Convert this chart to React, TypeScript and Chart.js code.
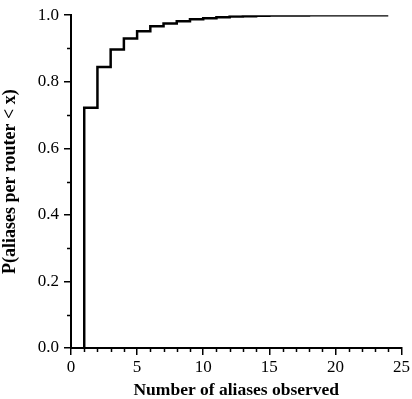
import React, { useEffect, useRef } from "react";
import { Chart, registerables } from "chart.js";

Chart.register(...registerables);

// Number of aliases observed (step positions)
const aliasCounts = [1, 1, 2, 3, 4, 5, 6, 7, 8, 9, 10, 11, 12, 13, 14, 15, 16, 17, 18, 19, 20, 21, 22, 23, 24];
// Cumulative probability P(aliases per router < x)
const cdfValues = [0, 0.722, 0.844, 0.897, 0.93, 0.952, 0.967, 0.975, 0.982, 0.988, 0.991, 0.994, 0.996, 0.997, 0.998, 0.999, 0.999, 0.999, 1.0, 1.0, 1.0, 1.0, 1.0, 1.0, 1.0];

const xMinorTicks = [1, 2, 3, 4, 6, 7, 8, 9, 11, 12, 13, 14, 16, 17, 18, 19, 21, 22, 23, 24];
const yMinorTicks = [0.1, 0.3, 0.5, 0.7, 0.9];

const xTitle = "Number of aliases observed";
const yTitle = "P(aliases per router < x)";

const FONT = "'Liberation Serif', 'Times New Roman', serif";

const minorTickPlugin = {
  id: "minorTicks",
  afterDraw(chart: any) {
    const { ctx, chartArea, scales } = chart;
    ctx.save();
    ctx.strokeStyle = "#000";
    ctx.lineWidth = 1.5;
    ctx.beginPath();
    for (const v of yMinorTicks) {
      const y = Math.round(scales.y.getPixelForValue(v)) + 0.5;
      ctx.moveTo(chartArea.left - 4, y);
      ctx.lineTo(chartArea.left, y);
    }
    for (const v of xMinorTicks) {
      const x = Math.round(scales.x.getPixelForValue(v)) + 0.5;
      ctx.moveTo(x, chartArea.bottom);
      ctx.lineTo(x, chartArea.bottom + 4);
    }
    ctx.stroke();
    ctx.restore();
  },
};

export default function App() {
  const ref = useRef<HTMLCanvasElement | null>(null);

  useEffect(() => {
    if (!ref.current) return;
    const data = aliasCounts.map((x, i) => ({ x, y: cdfValues[i] }));
    const chart = new Chart(ref.current, {
      type: "line",
      data: {
        datasets: [
          {
            data,
            borderColor: "#000",
            borderWidth: 2.5,
            pointRadius: 0,
            stepped: "before",
            fill: false,
          },
        ],
      },
      options: {
        animation: false,
        responsive: false,
        devicePixelRatio: 1,
        layout: { padding: { top: 15, right: 9, left: 0, bottom: 0 } },
        plugins: { legend: { display: false }, tooltip: { enabled: false } },
        scales: {
          x: {
            type: "linear",
            min: 0,
            max: 25,
            afterFit(scale: any) {
              scale.height = 51;
            },
            border: { display: true, color: "#000", width: 2 },
            grid: { display: true, drawOnChartArea: false, color: "#000", lineWidth: 1.5, tickLength: 7 },
            ticks: {
              stepSize: 5,
              color: "#000",
              padding: 2,
              maxRotation: 0,
              font: { family: FONT, size: 17 },
              callback: (v: any) => String(v),
            },
            title: {
              display: true,
              text: xTitle,
              color: "#000",
              padding: { top: 0, bottom: -2 },
              font: { family: FONT, size: 17.5, weight: "bold" },
            },
          },
          y: {
            type: "linear",
            min: 0,
            max: 1,
            afterFit(scale: any) {
              scale.width = 71;
            },
            border: { display: true, color: "#000", width: 2 },
            grid: { display: true, drawOnChartArea: false, color: "#000", lineWidth: 1.5, tickLength: 7 },
            ticks: {
              stepSize: 0.2,
              color: "#000",
              padding: 5,
              font: { family: FONT, size: 17 },
              callback: (v: any) => Number(v).toFixed(1),
            },
            title: {
              display: true,
              text: yTitle,
              color: "#000",
              padding: { top: 0, bottom: 4 },
              font: { family: FONT, size: 18, weight: "bold" },
            },
          },
        },
      },
      plugins: [minorTickPlugin],
    } as any);
    return () => chart.destroy();
  }, []);

  return (
    <div style={{ position: "fixed", left: 0, top: 0, width: 412, height: 399, background: "#fff" }}>
      <canvas ref={ref} width={412} height={399} style={{ display: "block" }} />
    </div>
  );
}
